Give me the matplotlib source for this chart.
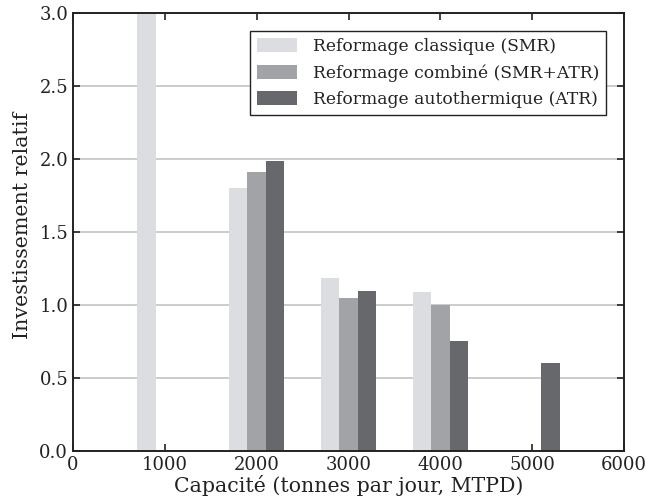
import matplotlib
matplotlib.use("Agg")
import matplotlib.pyplot as plt
import numpy as np

plt.rcParams['font.family'] = ['DejaVu Serif']
plt.rcParams['mathtext.fontset'] = 'dejavuserif'

capacities = [1000, 2000, 3000, 4000, 5000]
series_names = ["Reformage classique (SMR)",
                "Reformage combiné (SMR+ATR)",
                "Reformage autothermique (ATR)"]
smr = [3.0, 1.80, 1.185, 1.09, np.nan]
combined = [np.nan, 1.91, 1.05, 1.00, np.nan]
atr = [np.nan, 1.99, 1.095, 0.755, 0.605]
colors = ["#dcdde0", "#a2a3a6", "#67686c"]

bar_w = 200
offsets = [-200, 0, 200]

fig = plt.figure(figsize=(6.46, 5.04), dpi=100)
ax = fig.add_axes([0.113, 0.105, 0.853, 0.869])

x = np.array(capacities, dtype=float)
for vals, off, col, name in zip([smr, combined, atr], offsets, colors, series_names):
    v = np.array(vals, dtype=float)
    m = ~np.isnan(v)
    ax.bar(x[m] + off, v[m], width=bar_w, color=col, label=name, zorder=2, linewidth=0)

ax.set_xlim(0, 6000)
ax.set_ylim(0, 3.0)
ax.set_xticks([0, 1000, 2000, 3000, 4000, 5000, 6000])
ax.set_yticks([0.0, 0.5, 1.0, 1.5, 2.0, 2.5, 3.0])
ax.set_yticklabels(["0.0", "0.5", "1.0", "1.5", "2.0", "2.5", "3.0"])
ax.yaxis.grid(True, color="#c8c8c8", linewidth=1.3, zorder=0)
ax.set_axisbelow(True)
ax.tick_params(direction="in", top=True, right=True, length=5, width=1.2,
               labelsize=13, colors="#222222")
for s in ax.spines.values():
    s.set_linewidth(1.4)
    s.set_color("#222222")

ax.set_xlabel("Capacité (tonnes par jour, MTPD)", fontsize=14.8, color="#222222", labelpad=1)
ax.set_ylabel("Investissement relatif", fontsize=14.8, color="#222222")
ax.yaxis.set_label_coords(-0.074, 0.515)

leg = ax.legend(loc="upper right", bbox_to_anchor=(0.967, 0.959), fontsize=12.3,
                frameon=True, fancybox=False, framealpha=1, edgecolor="#222222",
                handlelength=2.35, handleheight=0.85, handletextpad=0.9,
                borderpad=0.4, labelspacing=0.55, borderaxespad=0)
leg.get_frame().set_linewidth(1.0)
for t in leg.get_texts():
    t.set_color("#222222")

fig.savefig("out.png", dpi=100)
